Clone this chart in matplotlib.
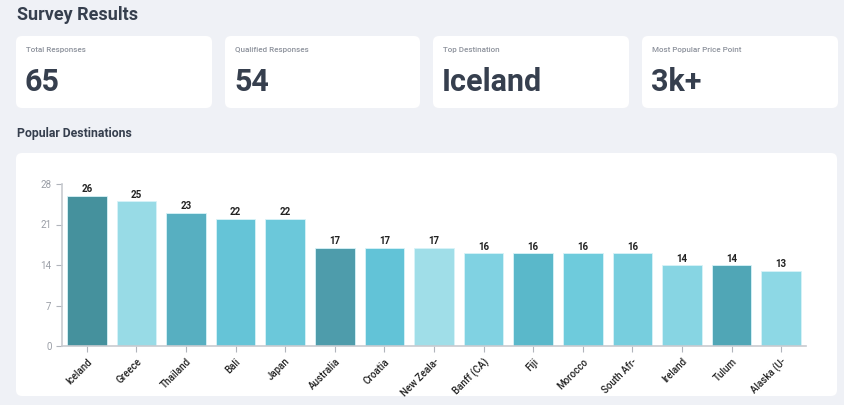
import matplotlib
matplotlib.use("Agg")
import matplotlib.pyplot as plt
from matplotlib.patches import FancyBboxPatch
import numpy as np

plt.rcParams['font.family'] = ['Roboto', 'DejaVu Sans']

# data
destinations = ['Iceland', 'Greece', 'Thailand', 'Bali', 'Japan', 'Australia', 'Croatia',
                'New Zeala-', 'Banff (CA)', 'Fiji', 'Morocco', 'South Afr-', 'Ireland',
                'Tulum', 'Alaska (U-']
counts = [26, 25, 23, 22, 22, 17, 17, 17, 16, 16, 16, 16, 14, 14, 13]
bar_colors = ['#45919d', '#98dbe6', '#57afc1', '#65c4d7', '#6bc8da', '#4e9cab', '#62c3d7',
              '#a0dee8', '#80d2e2', '#5ab8ca', '#6ecbdc', '#77cede', '#87d5e3', '#50a6b6',
              '#8dd8e5']
y_ticks = [0, 7, 14, 21, 28]

card_titles = ['Total Responses', 'Qualified Responses', 'Top Destination', 'Most Popular Price Point']
card_values = ['65', '54', 'Iceland', '3k+']

W, H = 845, 405
BG = '#eff1f6'
DARK = '#363f4e'

fig = plt.figure(figsize=(W / 100, H / 100), dpi=100)
fig.patch.set_facecolor(BG)

# background layer in pixel coordinates
bg = fig.add_axes([0, 0, 1, 1])
bg.set_xlim(0, W)
bg.set_ylim(H, 0)
bg.axis('off')

def card(x0, y0, x1, y1):
    bg.add_patch(FancyBboxPatch((x0, y0), x1 - x0, y1 - y0,
                                boxstyle='round,pad=0,rounding_size=6',
                                facecolor='white', edgecolor='none'))

bg.text(17, 15, 'Survey Results', fontsize=13, fontweight='bold', color=DARK,
        va='center', ha='left')

card_x = [(16, 212), (225, 420), (433, 629), (642, 838)]
for (x0, x1), t, v in zip(card_x, card_titles, card_values):
    card(x0, 36, x1, 108)
    bg.text(x0 + 10, 50, t, fontsize=5.8, color='#8d929c', fontweight='medium',
            va='center', ha='left')
    bg.text(x0 + 9, 82, v, fontsize=22, fontweight='bold', color=DARK,
            va='center', ha='left')

bg.text(17, 134, 'Popular Destinations', fontsize=8.8, fontweight='bold', color=DARK,
        va='center', ha='left')
card(16, 153, 837, 396)

# bar chart
ax = fig.add_axes([62 / W, 1 - 346 / H, (806 - 62) / W, (346 - 184) / H])
ax.set_facecolor('none')
x = np.arange(len(destinations))
ax.bar(x, counts, width=0.8, color=bar_colors, edgecolor='#d8f3f8', linewidth=0.6)
for xi, c in zip(x, counts):
    ax.text(xi, c + 0.25, str(c), ha='center', va='bottom', fontsize=7,
            fontweight='bold', color='#222222')

ax.set_xlim(-0.5, len(destinations) - 0.5)
ax.set_ylim(0, 28)
ax.set_yticks(y_ticks)
ax.set_yticklabels([str(t) for t in y_ticks])
ax.set_xticks(x)
ax.set_xticklabels(destinations, rotation=45, ha='right', rotation_mode='anchor')
ax.tick_params(axis='y', colors='#b0b4bb', labelcolor='#9a9ea6', labelsize=7, length=4, width=0.8)
ax.tick_params(axis='x', colors='#b0b4bb', labelcolor='#222222', labelsize=7, length=4, width=0.8)
for lab in ax.get_xticklabels():
    lab.set_fontweight('medium')
for s in ['top', 'right']:
    ax.spines[s].set_visible(False)
ax.spines['left'].set_color('#c8cbd0')
ax.spines['bottom'].set_color('#c8cbd0')
ax.spines['left'].set_linewidth(1.2)
ax.spines['bottom'].set_linewidth(1.2)

fig.savefig('out.png', dpi=100, facecolor=BG)
